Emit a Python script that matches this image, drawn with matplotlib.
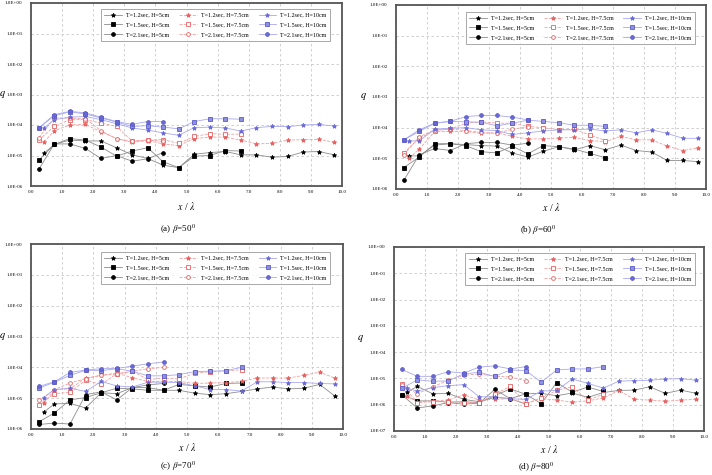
import matplotlib
matplotlib.use("Agg")
import matplotlib.pyplot as plt
from matplotlib.ticker import FixedLocator, FixedFormatter
from matplotlib.lines import Line2D

plt.rcParams['font.family'] = ['Liberation Serif', 'DejaVu Serif']
plt.rcParams['mathtext.fontset'] = 'stix'

# x / lambda positions for each wave period
x_t12 = [0.42, 0.75, 1.25, 1.75, 2.25, 2.75, 3.25, 3.75, 4.25, 4.75,
         5.25, 5.75, 6.25, 6.75, 7.25, 7.75, 8.25, 8.75, 9.25, 9.75]
x_t15 = [0.25, 0.75, 1.25, 1.75, 2.25, 2.75, 3.25, 3.75, 4.25, 4.75,
         5.25, 5.75, 6.25, 6.75]
x_t21 = [0.25, 0.75, 1.25, 1.75, 2.25, 2.75, 3.25, 3.75, 4.25]

labels = ['T=1.2sec, H=5cm', 'T=1.5sec, H=5cm', 'T=2.1sec, H=5cm',
          'T=1.2sec, H=7.5cm', 'T=1.5sec, H=7.5cm', 'T=2.1sec, H=7.5cm',
          'T=1.2sec, H=10cm', 'T=1.5sec, H=10cm', 'T=2.1sec, H=10cm']
captions = [r'(a) $\beta$=50$^{0}$', r'(b) $\beta$=60$^{0}$',
            r'(c) $\beta$=70$^{0}$', r'(d) $\beta$=80$^{0}$']

# ---- beta = 50
q50_h5_t12 = [1.2e-5, 2.3e-5, 3.2e-5, 3.0e-5, 3.0e-5, 1.8e-5, 1.05e-5, 8e-6, 4.8e-6, 4e-6,
              1.1e-5, 1.25e-5, 1.35e-5, 1.05e-5, 1.05e-5, 8.8e-6, 9.3e-6, 1.3e-5, 1.35e-5, 1.05e-5]
q50_h5_t15 = [7e-6, 2.3e-5, 3.6e-5, 3.2e-5, 1.9e-5, 9.5e-6, 1.4e-5, 1.8e-5, 6.2e-6, 4e-6,
              9.5e-6, 1.0e-5, 1.45e-5, 1.4e-5]
q50_h5_t21 = [3.5e-6, 2.4e-5, 2.4e-5, 1.7e-5, 8e-6, 1.0e-5, 6.5e-6, 7.8e-6, 1.25e-5]
q50_h75_t12 = [2.8e-5, 6.5e-5, 1.0e-4, 1.05e-4, 6e-5, 3.6e-5, 2.7e-5, 3.1e-5, 2.4e-5, 2.1e-5,
               3.6e-5, 4e-5, 4e-5, 3.2e-5, 2.4e-5, 2.5e-5, 3.2e-5, 3.3e-5, 3.4e-5, 2.7e-5]
q50_h75_t15 = [3.2e-5, 9e-5, 1.5e-4, 1.5e-4, 1.15e-4, 9e-5, 3e-5, 3.2e-5, 3.3e-5, 2.5e-5,
               4.2e-5, 5.2e-5, 5e-5, 5e-5]
q50_h75_t21 = [3.8e-5, 1.7e-4, 1.7e-4, 1.6e-4, 6.5e-5, 3.5e-5, 2.9e-5, 3.2e-5, 2.9e-5]
q50_h10_t12 = [8e-5, 1.5e-4, 1.8e-4, 1.9e-4, 1.5e-4, 1.1e-4, 8e-5, 6.8e-5, 5.5e-5, 4.6e-5,
               8.2e-5, 8.5e-5, 8e-5, 6.3e-5, 8.2e-5, 9e-5, 8.8e-5, 1.0e-4, 1.05e-4, 9.2e-5]
q50_h10_t15 = [8e-5, 2.0e-4, 2.7e-4, 2.3e-4, 1.7e-4, 1.25e-4, 9e-5, 9.5e-5, 8.5e-5, 7.5e-5,
               1.3e-4, 1.6e-4, 1.6e-4, 1.55e-4]
q50_h10_t21 = [8e-5, 2.2e-4, 2.8e-4, 2.5e-4, 1.8e-4, 1.3e-4, 1.05e-4, 1.3e-4, 1.3e-4]

# ---- beta = 60
q60_h5_t12 = [1.2e-5, 1.2e-5, 2.7e-5, 3e-5, 2.8e-5, 2.6e-5, 2.5e-5, 1.5e-5, 1.1e-5, 1.7e-5,
              2.4e-5, 1.9e-5, 2.6e-5, 1.9e-5, 2.7e-5, 1.8e-5, 1.6e-5, 8.5e-6, 8.5e-6, 7.8e-6]
q60_h5_t15 = [5e-6, 1.1e-5, 3e-5, 3e-5, 2.6e-5, 1.65e-5, 1.5e-5, 2.5e-5, 1.4e-5, 2.6e-5,
              2.4e-5, 2.0e-5, 1.45e-5, 1.05e-5]
q60_h5_t21 = [1.9e-6, 1.3e-5, 2.1e-5, 1.8e-5, 3e-5, 3.3e-5, 3.3e-5, 2.7e-5, 3.1e-5]
q60_h75_t12 = [1.0e-5, 2e-5, 7.5e-5, 7.5e-5, 7.5e-5, 6.5e-5, 6.8e-5, 5.2e-5, 4.3e-5, 4.3e-5,
               4.6e-5, 4.8e-5, 3.8e-5, 3.5e-5, 5.2e-5, 4e-5, 4e-5, 2.5e-5, 1.8e-5, 2.2e-5]
q60_h75_t15 = [1.5e-5, 4.5e-5, 8e-5, 9e-5, 1.4e-4, 1.55e-4, 1.4e-4, 1.4e-4, 1.1e-4, 1.0e-4,
               8.5e-5, 8.8e-5, 5.8e-5, 3.8e-5]
q60_h75_t21 = [1.3e-5, 5e-5, 8.5e-5, 9e-5, 8e-5, 7e-5, 6.5e-5, 9e-5, 1.05e-4]
q60_h10_t12 = [3.7e-5, 3.7e-5, 9e-5, 9.5e-5, 1.0e-4, 8.5e-5, 8e-5, 6e-5, 6.8e-5, 7.8e-5,
               8.5e-5, 8.5e-5, 9e-5, 7.8e-5, 8.5e-5, 6.8e-5, 8.5e-5, 6.5e-5, 4.5e-5, 4.5e-5]
q60_h10_t15 = [4e-5, 7.5e-5, 1.4e-4, 1.6e-4, 1.55e-4, 1.5e-4, 1.15e-4, 1.4e-4, 1.75e-4, 1.6e-4,
               1.45e-4, 1.2e-4, 1.2e-4, 1.1e-4]
q60_h10_t21 = [4e-5, 8.5e-5, 1.4e-4, 1.6e-4, 2.3e-4, 2.5e-4, 2.5e-4, 2.2e-4, 1.8e-4]

# ---- beta = 70
q70_h5_t12 = [3.6e-6, 6.5e-6, 6.8e-6, 4.8e-6, 1.5e-5, 1.4e-5, 2.2e-5, 2.2e-5, 1.8e-5, 1.8e-5,
              1.45e-5, 1.3e-5, 1.4e-5, 1.65e-5, 2e-5, 2.3e-5, 2e-5, 2.1e-5, 2.8e-5, 1.15e-5]
q70_h5_t15 = [1.7e-6, 3.3e-6, 8.8e-6, 1.05e-5, 1.5e-5, 2.1e-5, 2e-5, 1.8e-5, 1.8e-5, 2.8e-5,
              2.5e-5, 2.3e-5, 3e-5, 3.1e-5]
q70_h5_t21 = [1.4e-6, 1.55e-6, 1.45e-6, 1.3e-5, 1.6e-5, 8.8e-6, 2.2e-5, 2.7e-5, 3.0e-5]
q70_h75_t12 = [7e-6, 1.9e-5, 2e-5, 4.5e-5, 5.5e-5, 6.5e-5, 4.6e-5, 3.5e-5, 3.5e-5, 3.5e-5,
               3e-5, 3.1e-5, 3.2e-5, 3.5e-5, 4.5e-5, 4.5e-5, 4.5e-5, 5.5e-5, 7e-5, 4.4e-5]
q70_h75_t15 = [6e-6, 1.4e-5, 1.55e-5, 3.8e-5, 2.8e-5, 6.2e-5, 7.5e-5, 4e-5, 4.5e-5, 4.2e-5,
               6.5e-5, 7.2e-5, 7.5e-5, 8.5e-5]
q70_h75_t21 = [8.5e-6, 1.9e-5, 3.1e-5, 4.3e-5, 5.5e-5, 6e-5, 7.5e-5, 9e-5, 1.0e-4]
q70_h10_t12 = [1.05e-5, 1.9e-5, 2.1e-5, 1.65e-5, 3.5e-5, 2.5e-5, 2.3e-5, 3.3e-5, 3.3e-5, 3.2e-5,
               2.5e-5, 1.9e-5, 1.9e-5, 1.7e-5, 3.4e-5, 3.4e-5, 3.2e-5, 3.2e-5, 3e-5, 2.9e-5]
q70_h10_t15 = [2.1e-5, 3.3e-5, 5.5e-5, 8e-5, 7.8e-5, 9e-5, 7.5e-5, 5.3e-5, 5.3e-5, 5.8e-5,
               7.3e-5, 7.5e-5, 7.8e-5, 1.0e-4]
q70_h10_t21 = [2.4e-5, 3.4e-5, 6.8e-5, 8.2e-5, 9e-5, 9.2e-5, 1.1e-4, 1.3e-4, 1.5e-4]

# ---- beta = 80
q80_h5_t12 = [3e-6, 5e-6, 2.6e-6, 2.7e-6, 1.6e-6, 1.3e-6, 1.9e-6, 1.7e-6, 2.6e-6, 2.7e-6,
              2.2e-6, 2.8e-6, 1.9e-6, 2.9e-6, 3.5e-6, 3.6e-6, 4.8e-6, 2.7e-6, 3.6e-6, 2.7e-6]
q80_h5_t15 = [2.4e-6, 1.4e-6, 1.4e-6, 1.25e-6, 1.3e-6, 1.2e-6, 2.2e-6, 4e-6, 2.5e-6, 1.1e-6,
              7e-6, 3e-6, 4.7e-6, 3.2e-6]
q80_h5_t21 = [2.4e-6, 7.5e-7, 9e-7, 1.2e-6, 1.05e-6, 1.15e-6, 3.8e-6, 1.7e-6, 1.05e-6]
q80_h75_t12 = [2.2e-6, 1.3e-6, 1.4e-6, 1.5e-6, 2.4e-6, 1.5e-6, 1.6e-6, 1.7e-6, 1.1e-6, 1.7e-6,
               1.5e-6, 1.25e-6, 1.4e-6, 1.8e-6, 3.5e-6, 1.6e-6, 1.5e-6, 1.35e-6, 1.5e-6, 1.6e-6]
q80_h75_t15 = [6.2e-6, 1.2e-6, 1.3e-6, 1.3e-6, 1.2e-6, 1.2e-6, 2.5e-6, 5e-6, 1.1e-6, 1.8e-6,
               3.5e-6, 4.8e-6, 1.5e-6, 2.5e-6]
q80_h75_t21 = [5.8e-6, 2.6e-6, 4.8e-6, 8.5e-6, 1.3e-5, 1.5e-5, 1.2e-5, 1.15e-5, 8.2e-6]
q80_h10_t12 = [4.3e-6, 3.3e-6, 4.5e-6, 5.3e-6, 5.8e-6, 2e-6, 2e-6, 1.7e-6, 1.6e-6, 3.3e-6,
               3.5e-6, 9.5e-6, 6.5e-6, 4.3e-6, 7.8e-6, 8.3e-6, 8.5e-6, 9.5e-6, 9.8e-6, 8.5e-6]
q80_h10_t15 = [4.2e-6, 8.8e-6, 7.8e-6, 8e-6, 1.5e-5, 1.7e-5, 1.2e-5, 2.1e-5, 2e-5, 7.2e-6,
               2.1e-5, 2.3e-5, 2.3e-5, 2.8e-5]
q80_h10_t21 = [2.2e-5, 1.2e-5, 1.2e-5, 1.8e-5, 1.6e-5, 2.7e-5, 3e-5, 2.3e-5, 2.8e-5]

panels = [
    [q50_h5_t12, q50_h5_t15, q50_h5_t21, q50_h75_t12, q50_h75_t15, q50_h75_t21,
     q50_h10_t12, q50_h10_t15, q50_h10_t21],
    [q60_h5_t12, q60_h5_t15, q60_h5_t21, q60_h75_t12, q60_h75_t15, q60_h75_t21,
     q60_h10_t12, q60_h10_t15, q60_h10_t21],
    [q70_h5_t12, q70_h5_t15, q70_h5_t21, q70_h75_t12, q70_h75_t15, q70_h75_t21,
     q70_h10_t12, q70_h10_t15, q70_h10_t21],
    [q80_h5_t12, q80_h5_t15, q80_h5_t21, q80_h75_t12, q80_h75_t15, q80_h75_t21,
     q80_h10_t12, q80_h10_t15, q80_h10_t21],
]
xs = [x_t12, x_t15, x_t21]

# styles: (line color, line style, marker, marker face, marker edge, size)
styles = [
    ('#8c8c8c', '-', '*', 'black', 'black', 3.2),
    ('#8c8c8c', '-', 's', 'black', 'black', 2.7),
    ('#8c8c8c', '-', 'o', 'black', 'black', 2.7),
    ('#f2a0a0', '--', '*', '#e86060', '#e86060', 3.2),
    ('#f2a0a0', '--', 's', 'white', '#e86060', 2.7),
    ('#f2a0a0', '--', 'o', 'white', '#e86060', 2.7),
    ('#a8a8f0', '-', '*', '#6a6ad8', '#6a6ad8', 3.2),
    ('#a8a8f0', '-', 's', '#9090e0', '#5a5ac8', 2.7),
    ('#a8a8f0', '-', 'o', '#6a6ad8', '#5a5ac8', 2.7),
]

W, H = 712, 475
# axes boxes in pixels: left, top, right, bottom
boxes = [(31, 3, 342, 186), (396, 5, 706, 189), (31, 244, 343, 429), (394, 247, 704, 431)]
ymins = [-6, -6, -6, -7]
legend_anchor = [(0.971, 0.984), (0.974, 0.978), (0.968, 0.973), (0.98, 0.984)]
xlabel_y = [206, 207, 447, 449]
qlabel_x = [3, 364, 3, 361]
caption_xy = [(178, 229), (538, 230), (178, 466), (536, 467)]

fig = plt.figure(figsize=(W / 100, H / 100), dpi=100)

for p in range(4):
    l, t, r, b = boxes[p]
    ax = fig.add_axes([l / W, 1 - b / H, (r - l) / W, (b - t) / H])
    handles = []
    for i, q in enumerate(panels[p]):
        lc, ls, mk, mf, me, ms = styles[i]
        ax.plot(xs[i % 3], q, color=lc, ls=ls, lw=0.6, zorder=2)
        ax.plot(xs[i % 3], q, ls='none', marker=mk, mfc=mf, mec=me, ms=ms, mew=0.6, zorder=3)
        handles.append(Line2D([], [], color=lc, ls=ls, lw=0.6, marker=mk, mfc=mf, mec=me,
                              ms=ms, mew=0.6))
    ax.set_yscale('log')
    ax.set_xlim(0, 10)
    ax.set_ylim(10.0 ** ymins[p], 1)
    exps = list(range(ymins[p], 1))
    ax.yaxis.set_major_locator(FixedLocator([10.0 ** e for e in exps]))
    ax.yaxis.set_major_formatter(FixedFormatter(['1.0E%+03d' % e for e in exps]))
    ax.yaxis.set_minor_locator(FixedLocator([]))
    ax.set_xticks([i * 1.0 for i in range(11)])
    ax.set_xticklabels(['%.1f' % i for i in range(11)])
    ax.tick_params(length=0, labelsize=3.6, pad=3)
    ax.tick_params(axis='y', pad=6)
    ax.grid(True, color='#c8c8c8', ls=(0, (3, 3)), lw=0.6)
    for s in ax.spines.values():
        s.set_color('#555555')
        s.set_linewidth(1.3)
    leg = ax.legend(handles, labels, ncol=3, loc='upper right',
                    bbox_to_anchor=legend_anchor[p], fontsize=4.3, frameon=True,
                    fancybox=False, edgecolor='#808080', handlelength=3.0,
                    columnspacing=1.7, labelspacing=0.75, borderpad=0.6,
                    handletextpad=0.6)
    leg.get_frame().set_linewidth(0.6)
    cx = (l + r) / 2
    fig.text(cx / W, 1 - xlabel_y[p] / H, r'$x$ / $\lambda$', ha='center', va='center',
             fontsize=7)
    fig.text(qlabel_x[p] / W, 1 - ((t + b) / 2) / H, r'$q$', ha='center', va='center',
             fontsize=7.5)
    fig.text(caption_xy[p][0] / W, 1 - caption_xy[p][1] / H, captions[p], ha='center',
             va='center', fontsize=6.5)

fig.savefig('out.png', dpi=100)
